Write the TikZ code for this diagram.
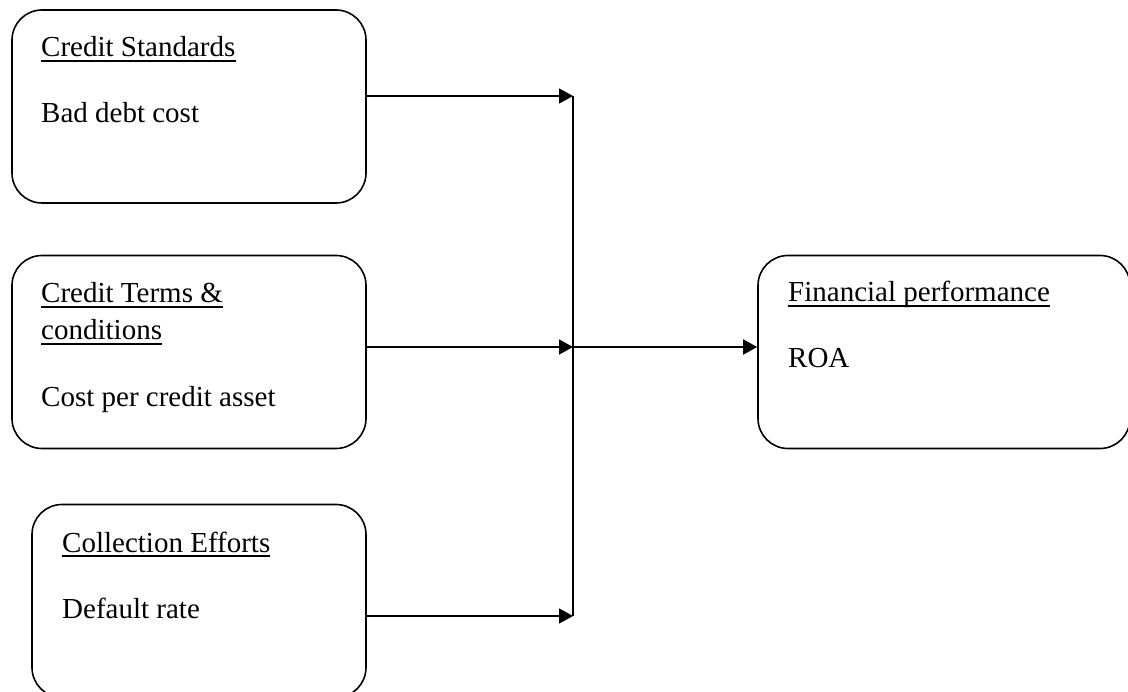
\documentclass[tikz,border=0pt]{standalone}
\usepackage{fontspec}
\setmainfont{Liberation Serif}
\usetikzlibrary{arrows.meta}
\begin{document}
\begin{tikzpicture}[x=1pt,y=-1pt,
  box/.style={draw,line width=1.6pt,rounded corners=30pt,inner sep=0pt,minimum width=354pt,minimum height=193pt},
  lbl/.style={inner sep=0pt,anchor=base west,font=\fontsize{29}{37}\selectfont},
  ul/.style={line width=1.4pt},
  conn/.style={line width=1.6pt},
  arr/.style={conn,-{Triangle[length=14pt,width=15pt]}}]
\clip (0,0) rectangle (1128,692);
\fill[white] (0,0) rectangle (1128,692);
% boxes
\node[box] (b1) at (189,106.5) {};
\node[box] (b2) at (189,352) {};
\node[box,minimum width=334pt] (b3) at (199,601) {};
\node[box,minimum width=372pt] (b4) at (944,352) {};
% texts
\node[lbl] (t1) at (41,57) {Credit Standards};
\node[lbl] (s1) at (41,123) {Bad debt cost};
\node[lbl] (t2a) at (41,303) {Credit Terms \&};
\node[lbl] (t2b) at (41,340) {conditions};
\node[lbl] (s2) at (41,407) {Cost per credit asset};
\node[lbl] (t3) at (62,552) {Collection Efforts};
\node[lbl] (s3) at (62,618) {Default rate};
\node[lbl] (t4) at (788,302) {Financial performance};
\node[lbl] (s4) at (788,368) {ROA};
% underlines
\foreach \t in {t1,t2a,t2b,t3,t4}
  \draw[ul] ([yshift=-4pt]\t.base west) -- ([yshift=-4pt]\t.base east);
% junction coordinates
\coordinate (j1) at (573,96);
\coordinate (j2) at (573,347);
\coordinate (j3) at (573,616);
% connectors
\draw[conn] (j1) -- (j3);
\draw[arr] (b1.east |- j1) -- (j1);
\draw[arr] (b2.east |- j2) -- (j2);
\draw[arr] (b3.east |- j3) -- (j3);
\draw[arr] (j2) -- (b4.west |- j2);
\end{tikzpicture}
\end{document}
